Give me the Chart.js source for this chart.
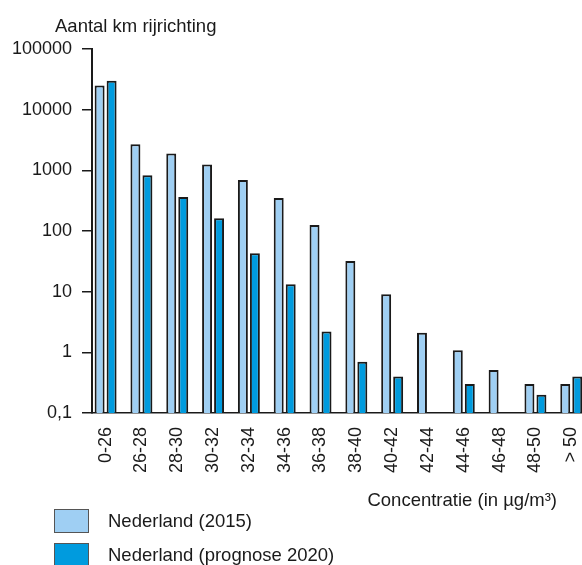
<!DOCTYPE html>
<html>
<head>
<meta charset="utf-8">
<script src="https://cdn.jsdelivr.net/npm/chart.js@4/dist/chart.umd.min.js"></script>
<style>
    html, body { margin: 0; padding: 0; background: #fff; overflow: hidden; }
    canvas { display: block; }
</style>
</head>
<body>
<canvas id="concChart" width="582" height="565"></canvas>
<script>
// 图表数据
const categories = ['0-26', '26-28', '28-30', '30-32', '32-34', '34-36', '36-38', '38-40', '40-42', '42-44', '44-46', '46-48', '48-50', '> 50'];
const values2015 = [25000, 2700, 1900, 1250, 690, 350, 125, 32, 9.1, 2.1, 1.08, 0.51, 0.3, 0.3];
const values2020 = [30000, 830, 365, 163, 43, 13.3, 2.2, 0.7, 0.4, 0.1, 0.3, 0.1, 0.2, 0.4];
const seriesLabels = ['Nederland (2015)', 'Nederland (prognose 2020)'];
const yTickValues = [0.1, 1, 10, 100, 1000, 10000, 100000];
const yTickLabels = ['0,1', '1', '10', '100', '1000', '10000', '100000'];
const yTitle = 'Aantal km rijrichting';
const xTitle = 'Concentratie (in µg/m³)';

const lightBlue = '#9fcff3';
const darkBlue = '#009bde';
const textColor = '#1a1a1a';
const fontFamily = '"Liberation Sans", Arial, sans-serif';

// 标题、坐标轴标题和图例
const decorPlugin = {
    id: 'decor',
    afterDraw(chart) {
        const ctx = chart.ctx;
        ctx.save();
        ctx.font = '18.5px ' + fontFamily;
        ctx.fillStyle = textColor;
        ctx.textBaseline = 'alphabetic';
        ctx.textAlign = 'left';
        ctx.fillText(yTitle, 55, 32);
        ctx.textAlign = 'right';
        ctx.fillText(xTitle, 557, 506);

        // 图例
        chart.data.datasets.forEach((ds, i) => {
            const top = 509 + i * 34;
            ctx.fillStyle = ds.backgroundColor;
            ctx.fillRect(54, top, 35, 24);
            ctx.strokeStyle = '#555';
            ctx.lineWidth = 1;
            ctx.strokeRect(54.5, top + 0.5, 34, 23);
            ctx.fillStyle = textColor;
            ctx.textAlign = 'left';
            ctx.fillText(ds.label, 108, top + 18);
        });
        ctx.restore();
    }
};

function toPoints(values) {
    return values.map((v, i) => ({ x: i, y: v }));
}

function initChart() {
    const ctx = document.getElementById('concChart');
    new Chart(ctx, {
        type: 'bar',
        data: {
            datasets: [
                {
                    label: seriesLabels[0],
                    data: toPoints(values2015),
                    backgroundColor: lightBlue,
                    borderColor: textColor,
                    borderWidth: 2
                },
                {
                    label: seriesLabels[1],
                    data: toPoints(values2020),
                    backgroundColor: darkBlue,
                    borderColor: textColor,
                    borderWidth: 2
                }
            ]
        },
        options: {
            responsive: false,
            animation: false,
            categoryPercentage: 0.67,
            barPercentage: 0.83,
            layout: { padding: { top: 49, right: 0, bottom: 58, left: 0 } },
            plugins: {
                legend: { display: false },
                tooltip: { enabled: false }
            },
            scales: {
                x: {
                    type: 'linear',
                    offset: false,
                    min: -0.38,
                    max: 13.3,
                    afterBuildTicks: scale => {
                        scale.ticks = categories.map((c, i) => ({ value: i }));
                    },
                    afterFit: scale => {
                        scale.height = 94;
                        scale.paddingLeft = 0;
                        scale.paddingRight = 0;
                    },
                    grid: { display: false, drawTicks: false },
                    border: { display: true, color: textColor, width: 1.5 },
                    ticks: {
                        autoSkip: false,
                        maxRotation: 90,
                        minRotation: 90,
                        padding: 14,
                        color: textColor,
                        font: { family: fontFamily, size: 18 },
                        callback: value => categories[value]
                    }
                },
                y: {
                    type: 'logarithmic',
                    min: 0.1,
                    max: 100000,
                    afterBuildTicks: scale => {
                        scale.ticks = yTickValues.map(v => ({ value: v }));
                    },
                    afterFit: scale => { scale.width = 92; },
                    grid: {
                        display: true,
                        drawOnChartArea: false,
                        drawTicks: true,
                        tickLength: 10,
                        color: textColor,
                        lineWidth: 1.5
                    },
                    border: { display: true, color: textColor, width: 2 },
                    ticks: {
                        padding: 10,
                        color: textColor,
                        font: { family: fontFamily, size: 18 },
                        callback: (value, index) => yTickLabels[index]
                    }
                }
            }
        },
        plugins: [decorPlugin]
    });
}

initChart();
</script>
</body>
</html>
